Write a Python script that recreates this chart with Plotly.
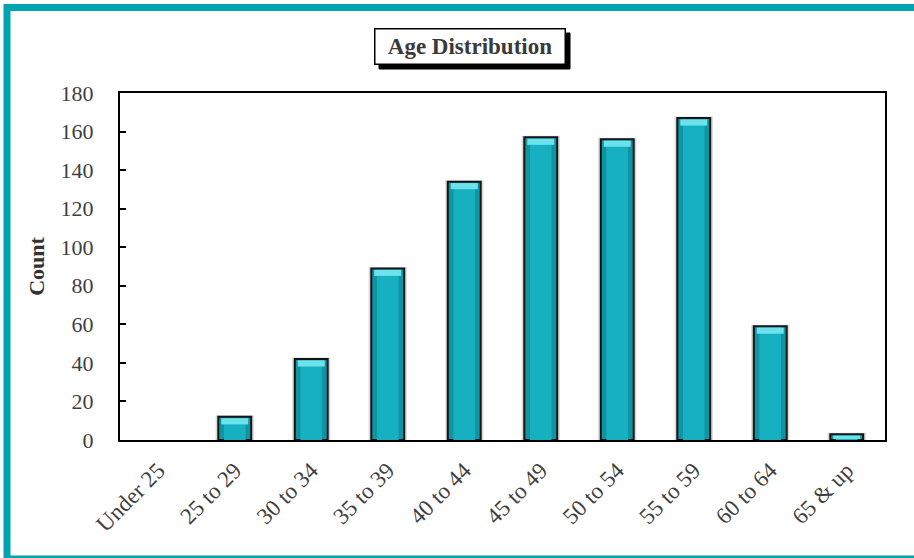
import plotly.graph_objects as go

# Age groups and head counts
age_groups = ["Under 25", "25 to 29", "30 to 34", "35 to 39", "40 to 44",
              "45 to 49", "50 to 54", "55 to 59", "60 to 64", "65 & up"]
counts = [0, 12, 42, 89, 134, 157, 156, 167, 59, 3]

y_ticks = list(range(0, 181, 20))

SERIF = "Liberation Serif, Times New Roman, serif"
TEAL = "#16B0C0"
TEAL_DARK = "#0D95A3"
TEAL_LIGHT = "#6CE2EC"
BAR_W = 0.43

# plot-area geometry in pixels (used to place paper-referenced decorations)
L, R, T, B = 120, 29, 93, 118
PW, PH = 914 - L - R, 558 - T - B


def px_x(px):
    return (px - L) / PW


def px_y(py):
    return (558 - B - py) / PH


fig = go.Figure()

# soft drop shadow behind each bar
fig.add_trace(go.Bar(
    x=age_groups, y=[c + 0.8 if c > 0 else 0 for c in counts],
    width=BAR_W + 0.07, marker=dict(color="rgba(0,0,0,0.15)", line=dict(width=0)),
    hoverinfo="skip", showlegend=False,
))

# main bars with dark outline
fig.add_trace(go.Bar(
    x=age_groups, y=counts, width=BAR_W,
    marker=dict(color=TEAL_DARK,
                line=dict(color="#141414", width=[0 if c == 0 else 2 for c in counts])),
    name="Count", showlegend=False,
))

# lighter centre band for a rounded look
fig.add_trace(go.Bar(
    x=age_groups, y=[max(c - 0.8, 0) for c in counts], width=BAR_W * 0.66,
    marker=dict(color=TEAL, line=dict(width=0)),
    hoverinfo="skip", showlegend=False,
))

# bevel highlight along each bar top
hl = [min(3.2, c * 0.6) for c in counts]
fig.add_trace(go.Bar(
    x=age_groups, y=hl, base=[c - h - 0.7 for c, h in zip(counts, hl)],
    width=BAR_W * 0.82,
    marker=dict(color=TEAL_LIGHT, line=dict(width=0)),
    hoverinfo="skip", showlegend=False,
))

fig.update_layout(
    width=914, height=558,
    margin=dict(l=L, r=R, t=T, b=B),
    paper_bgcolor="white", plot_bgcolor="white",
    barmode="overlay",
    font=dict(family=SERIF, color="#3f3f3f", size=21),
    xaxis=dict(
        categoryorder="array", categoryarray=age_groups,
        showline=True, linecolor="black", linewidth=2, mirror=True,
        ticks="", tickangle=-45, ticklabelstandoff=6,
        tickfont=dict(family=SERIF, size=23, color="#3f3f3f"),
        showgrid=False, zeroline=False,
    ),
    yaxis=dict(
        range=[0, 180], tickvals=y_ticks,
        showline=True, linecolor="black", linewidth=2, mirror=True,
        ticks="inside", ticklen=6, tickwidth=1.5, tickcolor="black",
        ticklabelstandoff=20,
        tickfont=dict(family=SERIF, size=22, color="#3f3f3f"),
        showgrid=False, zeroline=False,
        title=dict(text="<b>Count</b>", standoff=10,
                   font=dict(family=SERIF, size=22, color="#333333")),
    ),
    shapes=[
        # outer teal frame
        dict(type="rect", xref="paper", yref="paper",
             x0=px_x(7), x1=px_x(918), y0=px_y(559), y1=px_y(7.5),
             line=dict(color="#00A4B0", width=7), fillcolor="rgba(0,0,0,0)",
             layer="below"),
        # title box shadow
        dict(type="rect", xref="paper", yref="paper",
             x0=px_x(379), x1=px_x(570), y0=px_y(69), y1=px_y(33),
             line=dict(color="black", width=1), fillcolor="black"),
    ],
    annotations=[
        dict(text="<b>Age Distribution</b>", xref="paper", yref="paper",
             x=px_x(469.5), y=px_y(46), xanchor="center", yanchor="middle",
             showarrow=False, width=187, height=32,
             font=dict(family=SERIF, size=23, color="#3a3a3a"),
             bgcolor="white", bordercolor="black", borderwidth=1.5, borderpad=1),
    ],
)

fig.write_html("out.html")
